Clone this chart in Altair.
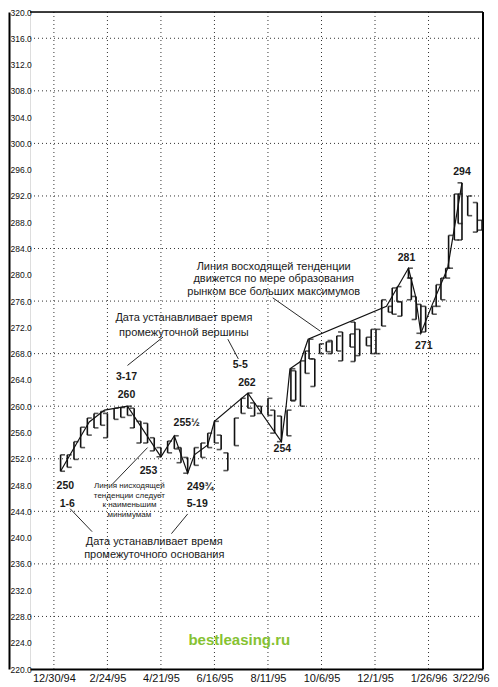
import altair as alt
import pandas as pd

# ---------------- data ----------------
bar_dates = [
    "1995-01-06", "1995-01-13", "1995-01-20", "1995-01-27", "1995-02-03", "1995-02-10",
    "1995-02-17", "1995-02-24", "1995-03-03", "1995-03-10", "1995-03-17", "1995-03-24",
    "1995-03-31", "1995-04-07", "1995-04-14", "1995-04-21", "1995-04-28", "1995-05-05",
    "1995-05-12", "1995-05-19", "1995-05-26", "1995-06-02", "1995-06-09", "1995-06-16",
    "1995-06-23", "1995-06-30", "1995-07-07", "1995-07-14", "1995-07-21", "1995-07-28",
    "1995-08-04", "1995-08-11", "1995-08-18", "1995-08-25", "1995-08-31", "1995-09-04",
    "1995-09-09", "1995-09-14", "1995-09-19", "1995-09-23", "1995-09-29", "1995-10-04",
    "1995-10-11", "1995-10-17", "1995-10-22", "1995-10-28", "1995-11-05", "1995-11-10",
    "1995-11-15", "1995-11-22", "1995-11-27", "1995-12-02", "1995-12-08", "1995-12-15",
    "1995-12-19", "1995-12-24", "1995-12-29", "1996-01-05", "1996-01-08", "1996-01-13",
    "1996-01-18", "1996-01-23", "1996-01-30", "1996-02-03", "1996-02-08", "1996-02-13",
    "1996-02-16", "1996-02-22", "1996-02-26", "1996-03-01", "1996-03-07", "1996-03-17",
    "1996-03-22",
]
bar_high = [
    252.6, 252.6, 254.6, 256.8, 258.2, 258.9, 259.2, 258.9, 259.7, 259.8, 260.0, 259.7,
    257.7, 257.4, 255.2, 253.7, 254.7, 255.5, 253.7, 252.2, 253.7, 254.4, 255.9, 257.7,
    255.6, 252.9, 258.2, 261.2, 262.0, 260.5, 260.0, 261.2, 259.4, 258.5, 259.4, 265.7,
    265.4, 266.9, 268.4, 270.2, 267.2, 269.5, 269.8, 270.0, 270.7, 271.3, 271.0, 272.8,
    271.7, 270.5, 271.7, 271.7, 276.2, 275.2, 278.0, 278.2, 275.9, 281.0, 279.5, 276.7,
    275.5, 275.2, 275.2, 278.5, 279.5, 281.0, 286.0, 292.3, 292.3, 294.0, 292.0, 291.0,
    288.3,
]
bar_low = [
    250.1, 250.7, 251.9, 253.7, 255.6, 256.7, 257.1, 255.2, 258.0, 258.3, 258.6, 256.7,
    254.4, 254.4, 253.2, 252.3, 252.9, 253.5, 251.4, 249.8, 251.0, 252.2, 253.7, 254.4,
    253.4, 250.2, 254.0, 258.9, 259.7, 258.5, 258.9, 258.6, 255.9, 254.6, 255.5, 260.8,
    260.9, 260.0, 265.0, 267.2, 263.0, 268.0, 268.3, 268.0, 268.4, 266.9, 269.0, 266.8,
    267.7, 269.2, 268.0, 268.0, 272.2, 274.3, 274.0, 275.9, 273.7, 279.5, 276.2, 273.2,
    271.1, 271.3, 274.0, 275.2, 276.2, 279.5, 281.0, 285.3, 287.8, 285.3, 289.0, 286.5,
    286.8,
]

# swing / trend line through the turning points
swing_dates = [
    "1995-01-06", "1995-01-25", "1995-02-05", "1995-02-21", "1995-03-17", "1995-04-21",
    "1995-05-05", "1995-05-19", "1995-05-26", "1995-06-09", "1995-06-16", "1995-07-21",
    "1995-08-04", "1995-08-25", "1995-08-30", "1995-09-03", "1995-09-14", "1995-09-22",
    "1995-12-13", "1996-01-05", "1996-01-12", "1996-01-18", "1996-01-30", "1996-02-15",
    "1996-03-01",
]
swing_prices = [
    250.1, 254.9, 257.6, 259.4, 260.0, 252.3,
    255.5, 249.8, 252.6, 254.1, 257.7, 262.0,
    259.0, 254.6, 260.0, 265.7, 266.8, 270.2,
    275.2, 281.0, 277.0, 271.1, 275.5, 281.0,
    294.0,
]

# pointer lines from the notes
ptr_start_dates = ["1995-03-17", "1995-06-30", "1995-08-16", "1995-03-01", "1995-01-16", "1995-05-19"]
ptr_start_prices = [266.2, 270.2, 276.5, 248.1, 244.4, 243.6]
ptr_end_dates = ["1995-04-23", "1995-07-11", "1995-10-05", "1995-04-07", "1995-02-08", "1995-05-02"]
ptr_end_prices = [270.5, 267.2, 271.4, 253.7, 240.9, 240.6]

# labels of the turning points
num_labels = ["3-17", "260", "253", "255½", "249¾", "5-19", "250", "1-6",
              "262", "5-5", "254", "281", "271", "294"]
num_dates = ["1995-03-16", "1995-03-16", "1995-04-08", "1995-05-18", "1995-06-01", "1995-05-29",
             "1995-01-11", "1995-01-13", "1995-07-20", "1995-07-13", "1995-08-26", "1996-01-03",
             "1996-01-21", "1996-03-01"]
num_prices = [264.5, 261.7, 250.2, 257.4, 247.7, 245.1, 247.8, 245.1,
              263.5, 266.2, 253.5, 282.6, 269.2, 295.6]

# notes
note_lines = [
    "Линия восходящей тенденции", "движется по мере образования", "рынком все больших максимумов",
    "Дата устанавливает время", "промежуточной вершины",
    "Дата устанавливает время", "промежуточного основания",
]
note_dates = ["1995-08-17", "1995-08-17", "1995-08-17", "1995-05-15", "1995-05-15",
              "1995-04-14", "1995-04-14"]
note_prices = [281.2, 279.4, 277.4, 273.5, 271.1, 239.4, 237.4]

small_lines = ["Линия нисходящей", "тенденции следует", "к наименьшим", "минимумам"]
small_dates = ["1995-03-19", "1995-03-19", "1995-03-19", "1995-03-19"]
small_prices = [247.9, 246.4, 244.9, 243.4]

mark_text_value = ["bestleasing.ru"]
mark_dates = ["1995-07-12"]
mark_prices = [224.4]

x_ticks = ["1994-12-30", "1995-02-24", "1995-04-21", "1995-06-16", "1995-08-11",
           "1995-10-06", "1995-12-01", "1996-01-26", "1996-03-22"]
x_grid = x_ticks[:-1]
y_ticks = [220, 224, 228, 232, 236, 240, 244, 248, 252, 256, 260, 264, 268, 272, 276,
           280, 284, 288, 292, 296, 300, 304, 308, 312, 316, 320]
y_grid = [228, 236, 244, 252, 260, 268, 276, 284, 292, 300, 308, 316]

# ---------------- chart ----------------
def dt(s):
    y, m, d = (int(v) for v in s.split("-"))
    return alt.DateTime(year=y, month=m, date=d, utc=True)

W, H = 453, 657
FONT = "Liberation Sans"
INK = "#111111"

xs = alt.Scale(type="utc", domain=[dt("1994-12-05"), dt("1996-03-23")])
ys = alt.Scale(domain=[220, 320], nice=False, zero=False)

x_axis = alt.Axis(
    values=[dt(s) for s in x_ticks],
    labelExpr="utcFormat(datum.value, '%-m/%-d/%y')",
    title=None, grid=False, ticks=False, domain=True, domainColor="black",
    domainWidth=2, labelFont=FONT, labelFontSize=11, labelColor=INK,
    labelPadding=3, labelFlush=3, labelFlushOffset=7, labelOverlap=False,
)
y_axis = alt.Axis(
    values=y_ticks, format=".1f", title=None, grid=False, ticks=False, tickSize=0,
    domain=True, domainColor="black", domainWidth=2, offset=21,
    labelAlign="left", labelPadding=-1, labelFont=FONT, labelFontSize=8.5,
    labelColor=INK, labelOverlap=False, labelFlush=False,
)

def X(field):
    return alt.X(f"{field}:T", scale=xs, axis=x_axis)

def Y(field):
    return alt.Y(f"{field}:Q", scale=ys, axis=y_axis)

bars = pd.DataFrame({"date": bar_dates, "high": bar_high, "low": bar_low})
mid = (bars["high"] + bars["low"]) / 2
bars["side"] = ["up" if d >= 0 else "down" for d in mid.diff().fillna(1)]

grid_h = alt.Chart(pd.DataFrame({"p": y_grid})).mark_rule(
    color="#333", strokeDash=[1, 3], strokeWidth=1
).encode(y=Y("p"))
grid_v = alt.Chart(pd.DataFrame({"d": x_grid})).mark_rule(
    color="#333", strokeDash=[1, 3], strokeWidth=1
).encode(x=X("d"))

frame_top = alt.Chart(pd.DataFrame({"k": [0]})).mark_rule(
    color="black", strokeWidth=1.5
).encode(y=alt.value(0))
frame_right = alt.Chart(pd.DataFrame({"k": [0]})).mark_rule(
    color="black", strokeWidth=2
).encode(x=alt.value(W))

bar_rules = alt.Chart(bars).mark_rule(color=INK, strokeWidth=1.6).encode(
    x=X("date"), y=Y("low"), y2="high"
)
tick_base = alt.Chart(bars).transform_fold(["high", "low"], as_=["which", "price"])
ticks_up = tick_base.transform_filter("datum.side == 'up'").mark_tick(
    orient="horizontal", size=4.5, thickness=1.6, xOffset=2.2, color=INK
).encode(x=X("date"), y=Y("price"))
ticks_dn = tick_base.transform_filter("datum.side == 'down'").mark_tick(
    orient="horizontal", size=4.5, thickness=1.6, xOffset=-2.2, color=INK
).encode(x=X("date"), y=Y("price"))

swing = alt.Chart(pd.DataFrame({"date": swing_dates, "price": swing_prices})).mark_line(
    color=INK, strokeWidth=1.2
).encode(x=X("date"), y=Y("price"))

ptrs = alt.Chart(pd.DataFrame({
    "d1": ptr_start_dates, "p1": ptr_start_prices, "d2": ptr_end_dates, "p2": ptr_end_prices,
})).mark_rule(color=INK, strokeWidth=0.9).encode(
    x=X("d1"), y=Y("p1"), x2="d2", y2="p2"
)

nums = alt.Chart(pd.DataFrame({"t": num_labels, "date": num_dates, "price": num_prices})).mark_text(
    font=FONT, fontSize=10.5, fontWeight="bold", color="#1a1a1a", baseline="middle"
).encode(x=X("date"), y=Y("price"), text="t:N")

notes = alt.Chart(pd.DataFrame({"t": note_lines, "date": note_dates, "price": note_prices})).mark_text(
    font=FONT, fontSize=11, color="#1a1a1a", baseline="middle"
).encode(x=X("date"), y=Y("price"), text="t:N")

smalls = alt.Chart(pd.DataFrame({"t": small_lines, "date": small_dates, "price": small_prices})).mark_text(
    font=FONT, fontSize=8, color="#1a1a1a", baseline="middle"
).encode(x=X("date"), y=Y("price"), text="t:N")

wmark = alt.Chart(pd.DataFrame({"t": mark_text_value, "date": mark_dates, "price": mark_prices})).mark_text(
    font=FONT, fontSize=15, fontWeight="bold", color="#86c232", baseline="middle"
).encode(x=X("date"), y=Y("price"), text="t:N")

chart = alt.layer(
    grid_h, grid_v, frame_top, frame_right, bar_rules, ticks_up, ticks_dn,
    swing, ptrs, nums, notes, smalls, wmark,
).properties(
    width=W, height=H,
    autosize=alt.AutoSizeParams(type="none"),
    padding={"left": 22, "top": 4, "right": 7, "bottom": 14},
    background="white",
).configure_view(stroke=None).configure(font=FONT)

chart.save("out.html", embed_options={"renderer": "svg", "actions": False})
